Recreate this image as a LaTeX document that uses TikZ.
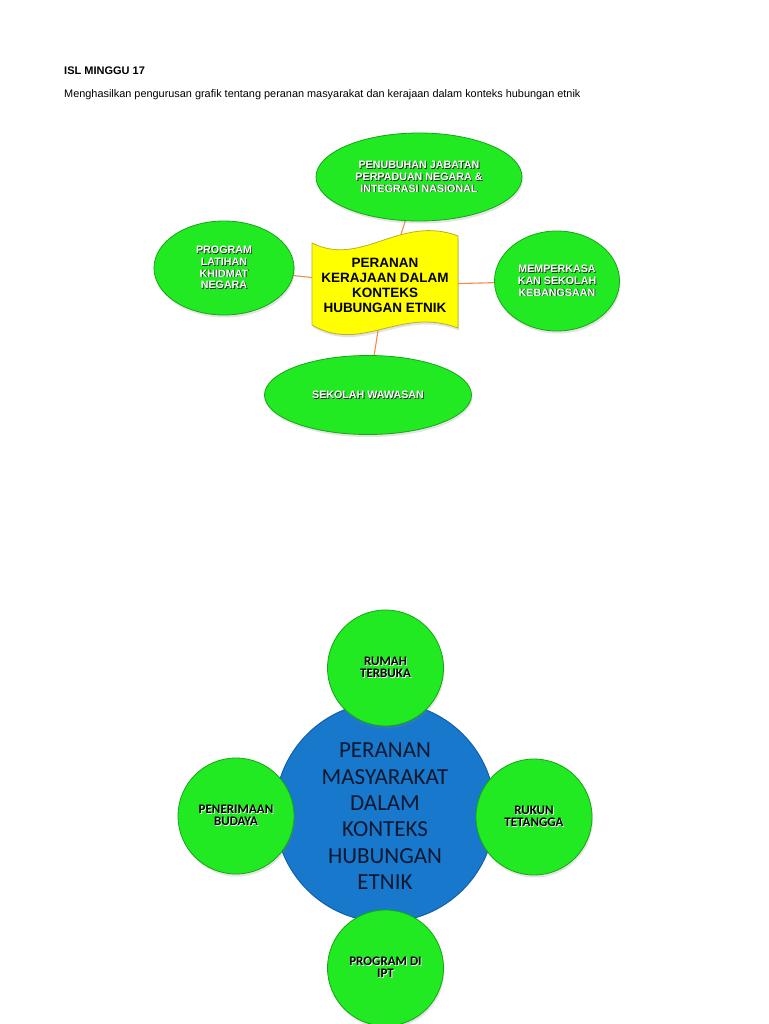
\documentclass[tikz,border=0pt]{standalone}
\usepackage{fontspec}
\setmainfont{Liberation Sans}
\newfontfamily\carlito{Carlito}
\usetikzlibrary{shapes.geometric,shadows}
\pgfdeclarelayer{bg}
\pgfdeclarelayer{lines}
\pgfsetlayers{bg,lines,main}

\definecolor{gfill}{RGB}{34,234,34}
\definecolor{gedge}{RGB}{22,165,22}
\definecolor{bfill}{RGB}{24,120,204}
\definecolor{bedge}{RGB}{18,95,170}
\definecolor{yfill}{RGB}{255,255,0}
\definecolor{yedge}{RGB}{185,175,40}
\definecolor{conncol}{RGB}{240,140,80}
\definecolor{btext}{RGB}{12,24,48}

\newcommand{\wsh}[1]{\makebox[0pt][l]{\hspace*{0.8pt}\raisebox{-0.8pt}{\color{black!85}#1}}{\color{white}#1}}
\newcommand{\bsh}[1]{\makebox[0pt][l]{\hspace*{0.8pt}\raisebox{-0.8pt}{\color{white}#1}}{\color{black}#1}}

\tikzset{
  softshadow/.style={drop shadow={opacity=0.22, shadow xshift=1pt, shadow yshift=-2.5pt}},
  gell/.style={ellipse, draw=gedge, line width=0.8pt, fill=gfill, inner sep=0pt, align=center,
    font=\fontsize{10.7}{11.8}\selectfont\bfseries, softshadow},
  gcirc/.style={circle, draw=gedge, line width=0.8pt, fill=gfill, minimum size=116pt, inner sep=0pt,
    align=center, font=\carlito\fontsize{13}{11.8}\selectfont\bfseries, softshadow},
  connline/.style={draw=conncol, line width=1.1pt},
}

\begin{document}
\begin{tikzpicture}[x=1pt,y=-1pt]
\begin{pgfonlayer}{bg}
\fill[white] (0,0) rectangle (768,1024);
\end{pgfonlayer}
\useasboundingbox (0,0) rectangle (768,1024);

% header
\node[anchor=base west, inner sep=0pt, font=\fontsize{11}{13}\selectfont\bfseries] (title) at (64,75) {ISL MINGGU 17};
\node[anchor=base west, inner sep=0pt, font=\fontsize{10.9}{13}\selectfont] (sub) at (64,98) {Menghasilkan pengurusan grafik tentang peranan masyarakat dan kerajaan dalam konteks hubungan etnik};

% ---- top diagram ----
\draw[yedge, fill=yfill, line width=0.8pt, softshadow]
  (312,243) .. controls (362,268) and (400,214) .. (458,236)
  -- (458,328) .. controls (400,306) and (362,354) .. (312,325) -- cycle;
\node[font=\fontsize{13.5}{15}\selectfont\bfseries, align=center, inner sep=0pt] (banner) at (385,285.5)
  {PERANAN\\KERAJAAN DALAM\\KONTEKS\\HUBUNGAN ETNIK};

\node[gell, minimum width=206pt, minimum height=88pt] (topE) at (419,177)
  {\wsh{PENUBUHAN JABATAN}\\\wsh{PERPADUAN NEGARA \&}\\\wsh{INTEGRASI NASIONAL}};
\node[gell, minimum width=140pt, minimum height=94pt] (leftE) at (224,268)
  {\wsh{PROGRAM}\\\wsh{LATIHAN}\\\wsh{KHIDMAT}\\\wsh{NEGARA}};
\node[gell, minimum width=125pt, minimum height=100pt] (rightE) at (557,281)
  {\wsh{MEMPERKASA}\\\wsh{KAN SEKOLAH}\\\wsh{KEBANGSAAN}};
\node[gell, minimum width=207pt, minimum height=79pt] (botE) at (368,395)
  {\wsh{SEKOLAH WAWASAN}};

\begin{pgfonlayer}{lines}
\draw[connline] (banner.center) -- (topE.center);
\draw[connline] (banner.center) -- (leftE.center);
\draw[connline] (banner.center) -- (rightE.center);
\draw[connline] (banner.center) -- (botE.center);
\end{pgfonlayer}

% ---- bottom diagram ----
\node[circle, fill=bfill, draw=bedge, line width=1pt, minimum size=220pt, inner sep=0pt,
  font=\carlito\fontsize{23}{26.4}\selectfont, text=btext] (soc) at (385,812)
  {\raisebox{-6.5pt}[\height][\depth]{\begin{tabular}{@{}c@{}}PERANAN\\MASYARAKAT\\DALAM\\KONTEKS\\HUBUNGAN\\ETNIK\end{tabular}}};

\node[gcirc] (c1) at (385.5,668) {\bsh{RUMAH}\\\bsh{TERBUKA}};
\node[gcirc] (c2) at (236,816) {\bsh{PENERIMAAN}\\\bsh{BUDAYA}};
\node[gcirc] (c3) at (534,817) {\bsh{RUKUN}\\\bsh{TETANGGA}};
\node[gcirc] (c4) at (385.5,968) {\bsh{PROGRAM DI}\\\bsh{IPT}};
\end{tikzpicture}
\end{document}
